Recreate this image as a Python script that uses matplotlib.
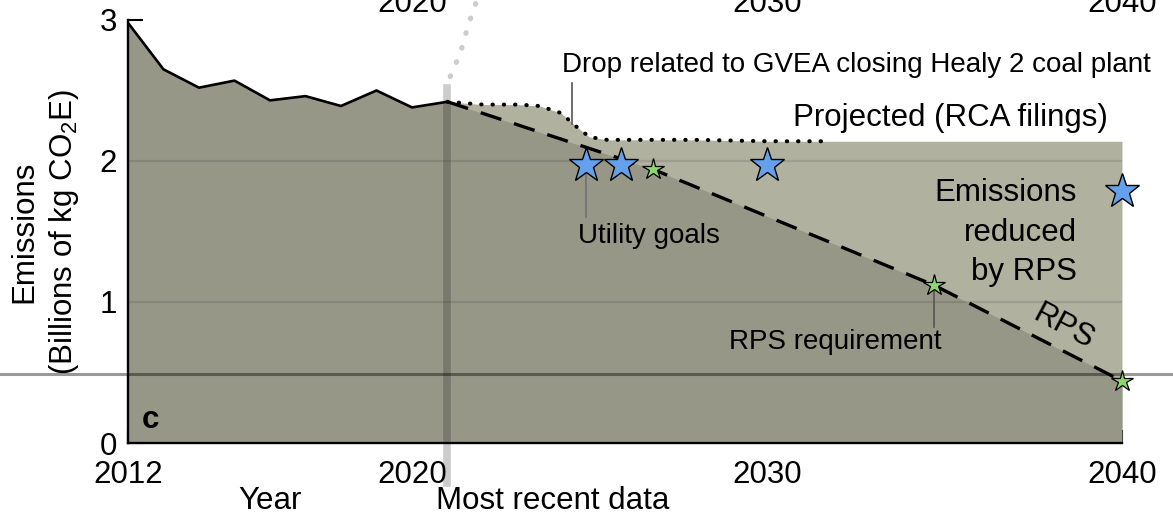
import matplotlib
matplotlib.use("Agg")
from matplotlib import pyplot as plt
import numpy as np

plt.rcParams['font.family'] = ['Liberation Sans', 'DejaVu Sans']
plt.rcParams['mathtext.fontset'] = 'custom'
plt.rcParams['mathtext.rm'] = 'Liberation Sans'
plt.rcParams['mathtext.it'] = 'Liberation Sans:italic'

# historical emissions (billions of kg CO2E)
hist_years = [2012, 2013, 2014, 2015, 2016, 2017, 2018, 2019, 2020, 2021]
hist_emissions = [2.98, 2.65, 2.52, 2.57, 2.43, 2.46, 2.39, 2.50, 2.38, 2.42]

# projected from RCA filings
proj_years = [2021, 2022, 2023, 2023.6, 2024.2, 2024.6, 2025.0, 2025.5, 2026, 2028, 2030, 2031.8]
proj_emissions = [2.42, 2.40, 2.40, 2.39, 2.34, 2.25, 2.17, 2.15, 2.15, 2.15, 2.14, 2.14]

# RPS path
rps_years = [2021, 2026.8, 2034.7, 2040]
rps_emissions = [2.42, 1.94, 1.12, 0.44]

# utility goals (blue stars) and RPS requirements (green stars)
goal_years = [2024.9, 2025.9, 2030, 2040]
goal_emissions = [1.97, 1.97, 1.97, 1.79]
req_years = [2026.8, 2034.7, 2040]
req_emissions = [1.94, 1.12, 0.44]

latest_year = 2021
end_year = 2040
x_ticks = [2012, 2020, 2030, 2040]
top_ticks = [2020, 2030, 2040]
y_ticks = [0, 1, 2, 3]
grid_levels = [1, 2]
ref_level = 0.49

# faint dotted connector going off the top
link_years = [2021.08, 2021.25, 2021.39, 2021.5, 2021.62, 2021.76, 2021.85]
link_values = [2.60, 2.70, 2.79, 2.89, 2.99, 3.09, 3.16]

dark = '#979787'
light = '#b1b1a0'
fs = 22.5
fs_small = 20

fig = plt.figure(figsize=(11.73, 5.15), dpi=100)
ax = fig.add_axes([0.1091, 0.1398, 0.8474, 0.8214])

# fills
fill_x = proj_years + [end_year]
fill_y = proj_emissions + [proj_emissions[-1]]
ax.fill_between(fill_x, 0, fill_y, color=light, lw=0, zorder=1)
ax.fill_between(hist_years, 0, hist_emissions, color=dark, lw=0, zorder=2)
ax.fill_between(rps_years, 0, rps_emissions, color=dark, lw=0, zorder=2)

ax.hlines(grid_levels, x_ticks[0], end_year, color='black', alpha=0.1, lw=1.6, zorder=3)
ax.axhline(ref_level, xmin=-0.13, xmax=1.06, color='black', alpha=0.4, lw=2.2,
           clip_on=False, zorder=3)
ax.axvline(latest_year, ymin=-0.095, ymax=0.84, color='black', alpha=0.2, lw=5.5,
           clip_on=False, zorder=3)
ax.plot(link_years, link_values, ls=(0, (0.1, 2.8)), color='#cccccc', lw=3.8,
        dash_capstyle='round', clip_on=False, zorder=3)

ax.plot(hist_years, hist_emissions, color='black', lw=1.9, zorder=4)
ax.plot(proj_years, proj_emissions, color='black', lw=2.9, ls=(0, (0.1, 2.7)),
        dash_capstyle='round', zorder=4)
ax.plot(rps_years, rps_emissions, color='black', lw=2.4, ls=(0, (6.5, 4)), zorder=4)

# leader lines
ax.plot([2024.52, 2024.52], [2.55, 2.26], color='#555555', lw=1.2, zorder=4)
ax.plot([goal_years[0], goal_years[0]], [goal_emissions[0], 1.60], color='#777777', lw=1.4, zorder=4)
ax.plot([req_years[1], req_years[1]], [req_emissions[1], 0.82], color='#555555', lw=1.2, zorder=4)

ax.plot(goal_years, goal_emissions, ls='none', marker='*', ms=26, mfc='#64a0eb',
        mec='black', mew=1.0, clip_on=False, zorder=6)
ax.plot(req_years, req_emissions, ls='none', marker='*', ms=16, mfc='#8cd66e',
        mec='black', mew=0.9, clip_on=False, zorder=6)

# labels
ax.text(2024.24, 2.63, 'Drop related to GVEA closing Healy 2 coal plant', fontsize=fs_small,
        ha='left', va='baseline', zorder=7)
ax.text(2030.73, 2.25, 'Projected (RCA filings)', fontsize=fs, ha='left', va='baseline', zorder=7)
ax.text(2038.73, 1.88, 'Emissions\nreduced\nby RPS', fontsize=fs, ha='right', va='top',
        multialignment='right', linespacing=1.42, zorder=7)
ax.text(2024.69, 1.42, 'Utility goals', fontsize=fs_small, ha='left', va='baseline', zorder=7)
ax.text(2028.92, 0.667, 'RPS requirement', fontsize=fs_small, ha='left', va='baseline', zorder=7)
ax.text(2038.34, 0.82, 'RPS', fontsize=fs, rotation=-28, ha='center', va='center', zorder=7)
ax.text(2012.4, 0.106, 'c', fontsize=fs, fontweight='bold', ha='left', va='baseline', zorder=7)
ax.text(2016, -0.47, 'Year', fontsize=fs, ha='center', va='baseline')
ax.text(latest_year - 0.32, -0.47, 'Most recent data', fontsize=fs, ha='left', va='baseline')

ax.text(-0.0835, 0.5, 'Emissions\n(Billions of kg CO$_2$E)', transform=ax.transAxes,
        fontsize=fs, rotation=90, ha='center', va='center', linespacing=1.3)

ax.set_xlim(x_ticks[0], end_year)
ax.set_ylim(y_ticks[0], y_ticks[-1])
ax.set_xticks(x_ticks)
ax.set_yticks(y_ticks)
ax.set_yticks(np.arange(0.5, 3, 1.0), minor=True)
ax.tick_params(axis='x', direction='in', length=9.5, width=1.5, pad=12, labelsize=fs)
ax.tick_params(axis='y', direction='in', length=11, width=1.5, pad=8, labelsize=fs)
ax.tick_params(axis='y', which='minor', direction='in', length=5, width=1.5)
for side in ['top', 'right']:
    ax.spines[side].set_visible(False)
for side in ['left', 'bottom']:
    ax.spines[side].set_linewidth(1.7)
    ax.spines[side].set_zorder(8)
ax.set_facecolor('none')

top = ax.secondary_xaxis('top')
top.set_xticks(top_ticks)
top.tick_params(length=0, pad=0.5, labelsize=fs)
top.spines['top'].set_visible(False)

fig.savefig('out.png', dpi=100)
